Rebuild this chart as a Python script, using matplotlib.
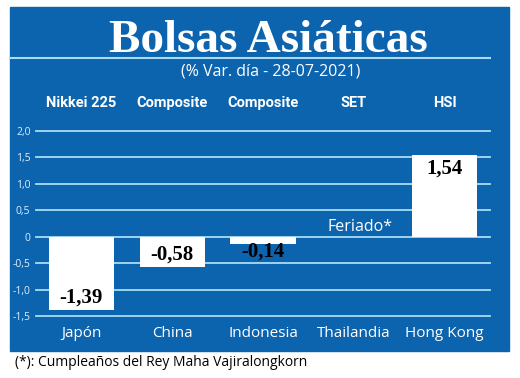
import numpy as np
import matplotlib.pyplot as plt
from matplotlib.patches import Rectangle
from matplotlib.lines import Line2D

paises = ["Japón", "China", "Indonesia", "Thailandia", "Hong Kong"]
indices = ["Nikkei 225", "Composite", "Composite", "SET", "HSI"]
variacion = [-1.39, -0.58, -0.14, np.nan, 1.54]  # Thailandia: feriado
etiquetas = ["-1,39", "-0,58", "-0,14", "", "1,54"]
yticks = [-1.5, -1.0, -0.5, 0, 0.5, 1.0, 1.5, 2.0]
ytick_labels = ["-1,5", "-1,0", "-0,5", "0", "0,5", "1,0", "1,5", "2,0"]

AZUL = "#0c63ae"
LINEA = "#a9dcf2"
W, H = 520, 378

fig = plt.figure(figsize=(W / 100, H / 100), dpi=100)
fig.patch.set_facecolor("white")

def fx(px):
    return px / W

def fy(py):
    return 1 - py / H

# blue panel
fig.patches.append(Rectangle((fx(10), fy(351)), fx(499), 344 / H,
                             transform=fig.transFigure, color=AZUL, zorder=-5))
fig.lines.append(Line2D([fx(10), fx(490)], [fy(57.5), fy(57.5)],
                        transform=fig.transFigure, color=LINEA, lw=1.5, zorder=-4))

fig.text(fx(268), fy(41), "Bolsas Asiáticas", color="white", fontsize=34,
         fontweight="bold", family="Liberation Serif", ha="center", va="center")
fig.text(fx(271), fy(72), "(% Var. día - 28-07-2021)", color="white", fontsize=11.5,
         family="Open Sans", ha="center", va="center")

ax = fig.add_axes([fx(36), fy(316), fx(454), 185 / H])
ax.set_facecolor("none")
x = np.arange(len(paises))
ax.set_xlim(-0.5, 4.5)
ax.set_ylim(-1.5, 2.0)

for t in yticks:
    ax.axhline(t, color=LINEA, lw=1.3, zorder=1, clip_on=False)

ax.bar(x, variacion, width=0.72, color="white", zorder=2)

for i, (v, lab) in enumerate(zip(variacion, etiquetas)):
    if np.isnan(v):
        ax.text(i + 0.07, 0.03, "Feriado*", color="white", fontsize=11.5,
                family="Open Sans", ha="center", va="bottom", zorder=3)
        continue
    if v > 0:
        ax.text(i, v - 0.06, lab, ha="center", va="top", fontsize=15,
                fontweight="bold", family="Liberation Serif", color="black", zorder=3)
    elif v < -0.3:
        ax.text(i, v + 0.05, lab, ha="center", va="bottom", fontsize=15,
                fontweight="bold", family="Liberation Serif", color="black", zorder=3)
    else:
        ax.text(i, v + 0.04, lab, ha="center", va="top", fontsize=15,
                fontweight="bold", family="Liberation Serif", color="black", zorder=3)

ax.set_yticks(yticks)
ax.set_yticklabels(ytick_labels, color="#dcefff", fontsize=7.5, family="Open Sans")
ax.tick_params(axis="y", length=0, pad=4)
ax.set_xticks(x)
ax.set_xticklabels(paises, color="white", fontsize=11, family="Open Sans")
ax.tick_params(axis="x", length=0, pad=7)
for s in ax.spines.values():
    s.set_visible(False)

# index names above the chart
for i, nombre in enumerate(indices):
    ax.annotate(nombre, (i, 2.0), xytext=(0, 20), textcoords="offset points",
                ha="center", va="center", color="white", fontsize=10.5,
                fontweight="bold", family="Roboto",
                annotation_clip=False)

fig.text(fx(15), fy(363), "(*): Cumpleaños del Rey Maha Vajiralongkorn", color="black",
         fontsize=10, family="Open Sans", ha="left", va="center")

fig.savefig("out.png", dpi=100)
